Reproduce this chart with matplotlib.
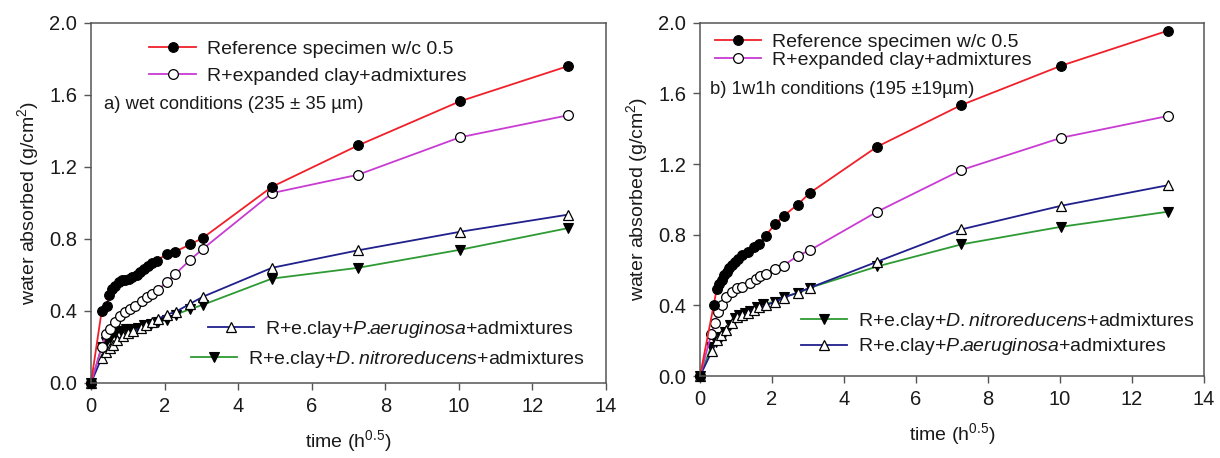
import matplotlib
matplotlib.use("Agg")
import matplotlib.pyplot as plt

plt.rcParams['font.family'] = ['Liberation Sans', 'DejaVu Sans']
plt.rcParams['mathtext.fontset'] = 'custom'
plt.rcParams['mathtext.rm'] = 'Liberation Sans'
plt.rcParams['mathtext.it'] = 'Liberation Sans:italic'
plt.rcParams['mathtext.bf'] = 'Liberation Sans:bold'

# ---------------- data: panel a) wet conditions ----------------
a_ref_t = [0, 0.29, 0.43, 0.49, 0.56, 0.65, 0.75, 0.84, 0.93, 1.02, 1.11, 1.25, 1.34,
           1.45, 1.56, 1.67, 1.79, 2.06, 2.29, 2.70, 3.04, 4.92, 7.26, 10.03, 12.96]
a_ref_v = [0, 0.40, 0.43, 0.49, 0.52, 0.54, 0.56, 0.57, 0.575, 0.58, 0.59, 0.60, 0.615,
           0.634, 0.65, 0.665, 0.68, 0.717, 0.73, 0.77, 0.806, 1.09, 1.32, 1.565, 1.76]
a_ec_t = [0, 0.29, 0.41, 0.52, 0.65, 0.79, 0.93, 1.06, 1.20, 1.38, 1.52, 1.65, 1.81,
          2.06, 2.29, 2.70, 3.04, 4.92, 7.26, 10.03, 12.96]
a_ec_v = [0, 0.20, 0.27, 0.30, 0.34, 0.375, 0.394, 0.41, 0.43, 0.455, 0.477, 0.495, 0.514,
          0.562, 0.605, 0.685, 0.745, 1.055, 1.157, 1.365, 1.487]
a_pa_t = [0, 0.29, 0.42, 0.52, 0.61, 0.71, 0.86, 1.00, 1.15, 1.35, 1.49, 1.66, 1.81,
          2.06, 2.30, 2.69, 3.05, 4.92, 7.26, 10.03, 12.96]
a_pa_v = [0, 0.14, 0.175, 0.195, 0.21, 0.24, 0.26, 0.28, 0.287, 0.305, 0.32, 0.34, 0.355,
          0.38, 0.395, 0.44, 0.48, 0.64, 0.737, 0.84, 0.935]
a_dn_t = [0, 0.29, 0.42, 0.52, 0.66, 0.81, 0.96, 1.10, 1.27, 1.44, 1.64, 1.81,
          2.06, 2.30, 2.69, 3.05, 4.92, 7.26, 10.03, 12.96]
a_dn_v = [0, 0.20, 0.23, 0.25, 0.28, 0.29, 0.30, 0.30, 0.305, 0.32, 0.33, 0.34,
          0.35, 0.38, 0.41, 0.435, 0.58, 0.64, 0.74, 0.86]

# ---------------- data: panel b) 1w1h conditions ----------------
b_ref_t = [0, 0.38, 0.46, 0.53, 0.60, 0.67, 0.74, 0.81, 0.88, 0.96, 1.06, 1.18, 1.34,
           1.49, 1.65, 1.82, 2.08, 2.32, 2.71, 3.06, 4.92, 7.26, 10.04, 13.0]
b_ref_v = [0, 0.40, 0.49, 0.52, 0.545, 0.57, 0.59, 0.61, 0.63, 0.645, 0.665, 0.685, 0.70,
           0.728, 0.75, 0.794, 0.858, 0.906, 0.97, 1.038, 1.298, 1.534, 1.757, 1.955]
b_ec_t = [0, 0.31, 0.41, 0.51, 0.62, 0.72, 0.875, 1.03, 1.18, 1.39, 1.55, 1.68, 1.82,
          2.08, 2.32, 2.71, 3.06, 4.92, 7.26, 10.04, 13.0]
b_ec_v = [0, 0.236, 0.30, 0.364, 0.40, 0.45, 0.477, 0.496, 0.506, 0.525, 0.547, 0.566, 0.58,
          0.604, 0.625, 0.68, 0.713, 0.93, 1.166, 1.349, 1.472]
b_pa_t = [0, 0.33, 0.46, 0.59, 0.72, 0.875, 1.03, 1.18, 1.34, 1.49, 1.65, 1.82,
          2.08, 2.32, 2.71, 3.06, 4.92, 7.26, 10.04, 13.0]
b_pa_v = [0, 0.14, 0.204, 0.232, 0.26, 0.298, 0.332, 0.345, 0.358, 0.374, 0.389, 0.40,
          0.42, 0.443, 0.472, 0.50, 0.647, 0.83, 0.964, 1.08]
b_dn_t = [0, 0.31, 0.44, 0.57, 0.69, 0.82, 0.96, 1.08, 1.24, 1.39, 1.58, 1.75,
          2.08, 2.32, 2.71, 3.06, 4.92, 7.26, 10.04, 13.0]
b_dn_v = [0, 0.166, 0.194, 0.223, 0.25, 0.289, 0.326, 0.345, 0.355, 0.37, 0.389, 0.408,
          0.42, 0.45, 0.468, 0.50, 0.62, 0.745, 0.845, 0.93]

label_ref = "Reference specimen w/c 0.5"
label_ec = "R+expanded clay+admixtures"
label_pa = r"R+e.clay+$\mathit{P.\!\!aeruginosa}$+admixtures"
label_dn = r"R+e.clay+$\mathit{D.\!\!\ nitroreducens}$+admixtures"
x_ticks = [0, 2, 4, 6, 8, 10, 12, 14]
y_ticks = [0.0, 0.4, 0.8, 1.2, 1.6, 2.0]

c_red = '#f0202a'
c_mag = '#c83cd2'
c_blue = '#20208c'
c_green = '#2e9a34'
txt = '#1a1a1a'
spine_c = '#555555'

fig = plt.figure(figsize=(12.2, 4.58), dpi=100)
axA = fig.add_axes([91/1220, 1 - 383/458, 515/1220, 360/458])
axB = fig.add_axes([700/1220, 1 - 376/458, 504/1220, 353.3/458])

ms = 7
lw = 1.3

def draw(ax, ref, ec, pa, dn):
    hdn, = ax.plot(dn[0], dn[1], color=c_green, lw=lw, marker='v', ms=ms,
                   mfc='black', mec='black', mew=0.8, label=label_dn)
    hpa, = ax.plot(pa[0], pa[1], color=c_blue, lw=lw, marker='^', ms=ms,
                   mfc='white', mec='black', mew=0.9, label=label_pa)
    hec, = ax.plot(ec[0], ec[1], color=c_mag, lw=lw, marker='o', ms=ms,
                   mfc='white', mec='black', mew=0.9, label=label_ec)
    href, = ax.plot(ref[0], ref[1], color=c_red, lw=lw, marker='o', ms=ms,
                    mfc='black', mec='black', mew=0.8, label=label_ref)
    ax.set_xlim(0, 14)
    ax.set_ylim(0, 2.0)
    ax.set_xticks(x_ticks)
    ax.set_yticks(y_ticks)
    ax.set_yticklabels([f"{v:.1f}" for v in y_ticks])
    ax.tick_params(direction='out', length=5, width=1, labelsize=14.5,
                   colors=spine_c, labelcolor=txt, pad=5)
    for s in ax.spines.values():
        s.set_color(spine_c)
        s.set_linewidth(1.1)
    ax.set_xlabel(r"time (h$^{0.5}$)", fontsize=14, color=txt, labelpad=9)
    ax.set_ylabel(r"water absorbed (g/cm$^2$)", fontsize=14, color=txt, labelpad=6)
    for ln in (hdn, hpa, hec, href):
        ln.set_clip_on(False)
    return href, hec, hpa, hdn

leg_kw = dict(frameon=False, fontsize=14, borderpad=0, borderaxespad=0,
              handlelength=2.4, handletextpad=0.55)

# ---- panel a
href, hec, hpa, hdn = draw(axA, (a_ref_t, a_ref_v), (a_ec_t, a_ec_v),
                           (a_pa_t, a_pa_v), (a_dn_t, a_dn_v))
l1 = axA.legend([href, hec], [label_ref, label_ec], loc='center left',
                bbox_to_anchor=(1.59, 1.78), bbox_transform=axA.transData,
                labelspacing=0.45, **leg_kw)
for t in l1.get_texts():
    t.set_color(txt)
axA.add_artist(l1)
l2 = axA.legend([hpa], [label_pa], loc='center',
                bbox_to_anchor=(8.15, 0.296), bbox_transform=axA.transData, **leg_kw)
for t in l2.get_texts():
    t.set_color(txt)
axA.add_artist(l2)
l3 = axA.legend([hdn], [label_dn], loc='center',
                bbox_to_anchor=(8.07, 0.133), bbox_transform=axA.transData, **leg_kw)
for t in l3.get_texts():
    t.set_color(txt)
axA.text(0.36, 1.545, "a) wet conditions (235 ± 35 µm)", fontsize=13.3, color=txt,
         ha='left', va='center')

# ---- panel b
href, hec, hpa, hdn = draw(axB, (b_ref_t, b_ref_v), (b_ec_t, b_ec_v),
                           (b_pa_t, b_pa_v), (b_dn_t, b_dn_v))
m1 = axB.legend([href, hec], [label_ref, label_ec], loc='center left',
                bbox_to_anchor=(0.41, 1.84), bbox_transform=axB.transData,
                labelspacing=0.0, **leg_kw)
for t in m1.get_texts():
    t.set_color(txt)
axB.add_artist(m1)
m2 = axB.legend([hdn, hpa], [label_dn, label_pa], loc='center left',
                bbox_to_anchor=(2.8, 0.2375), bbox_transform=axB.transData,
                labelspacing=0.25, **leg_kw)
for t in m2.get_texts():
    t.set_color(txt)
axB.text(0.28, 1.62, "b) 1w1h conditions (195 ±19µm)", fontsize=13.3, color=txt,
         ha='left', va='center')

fig.savefig("out.png", dpi=100)
